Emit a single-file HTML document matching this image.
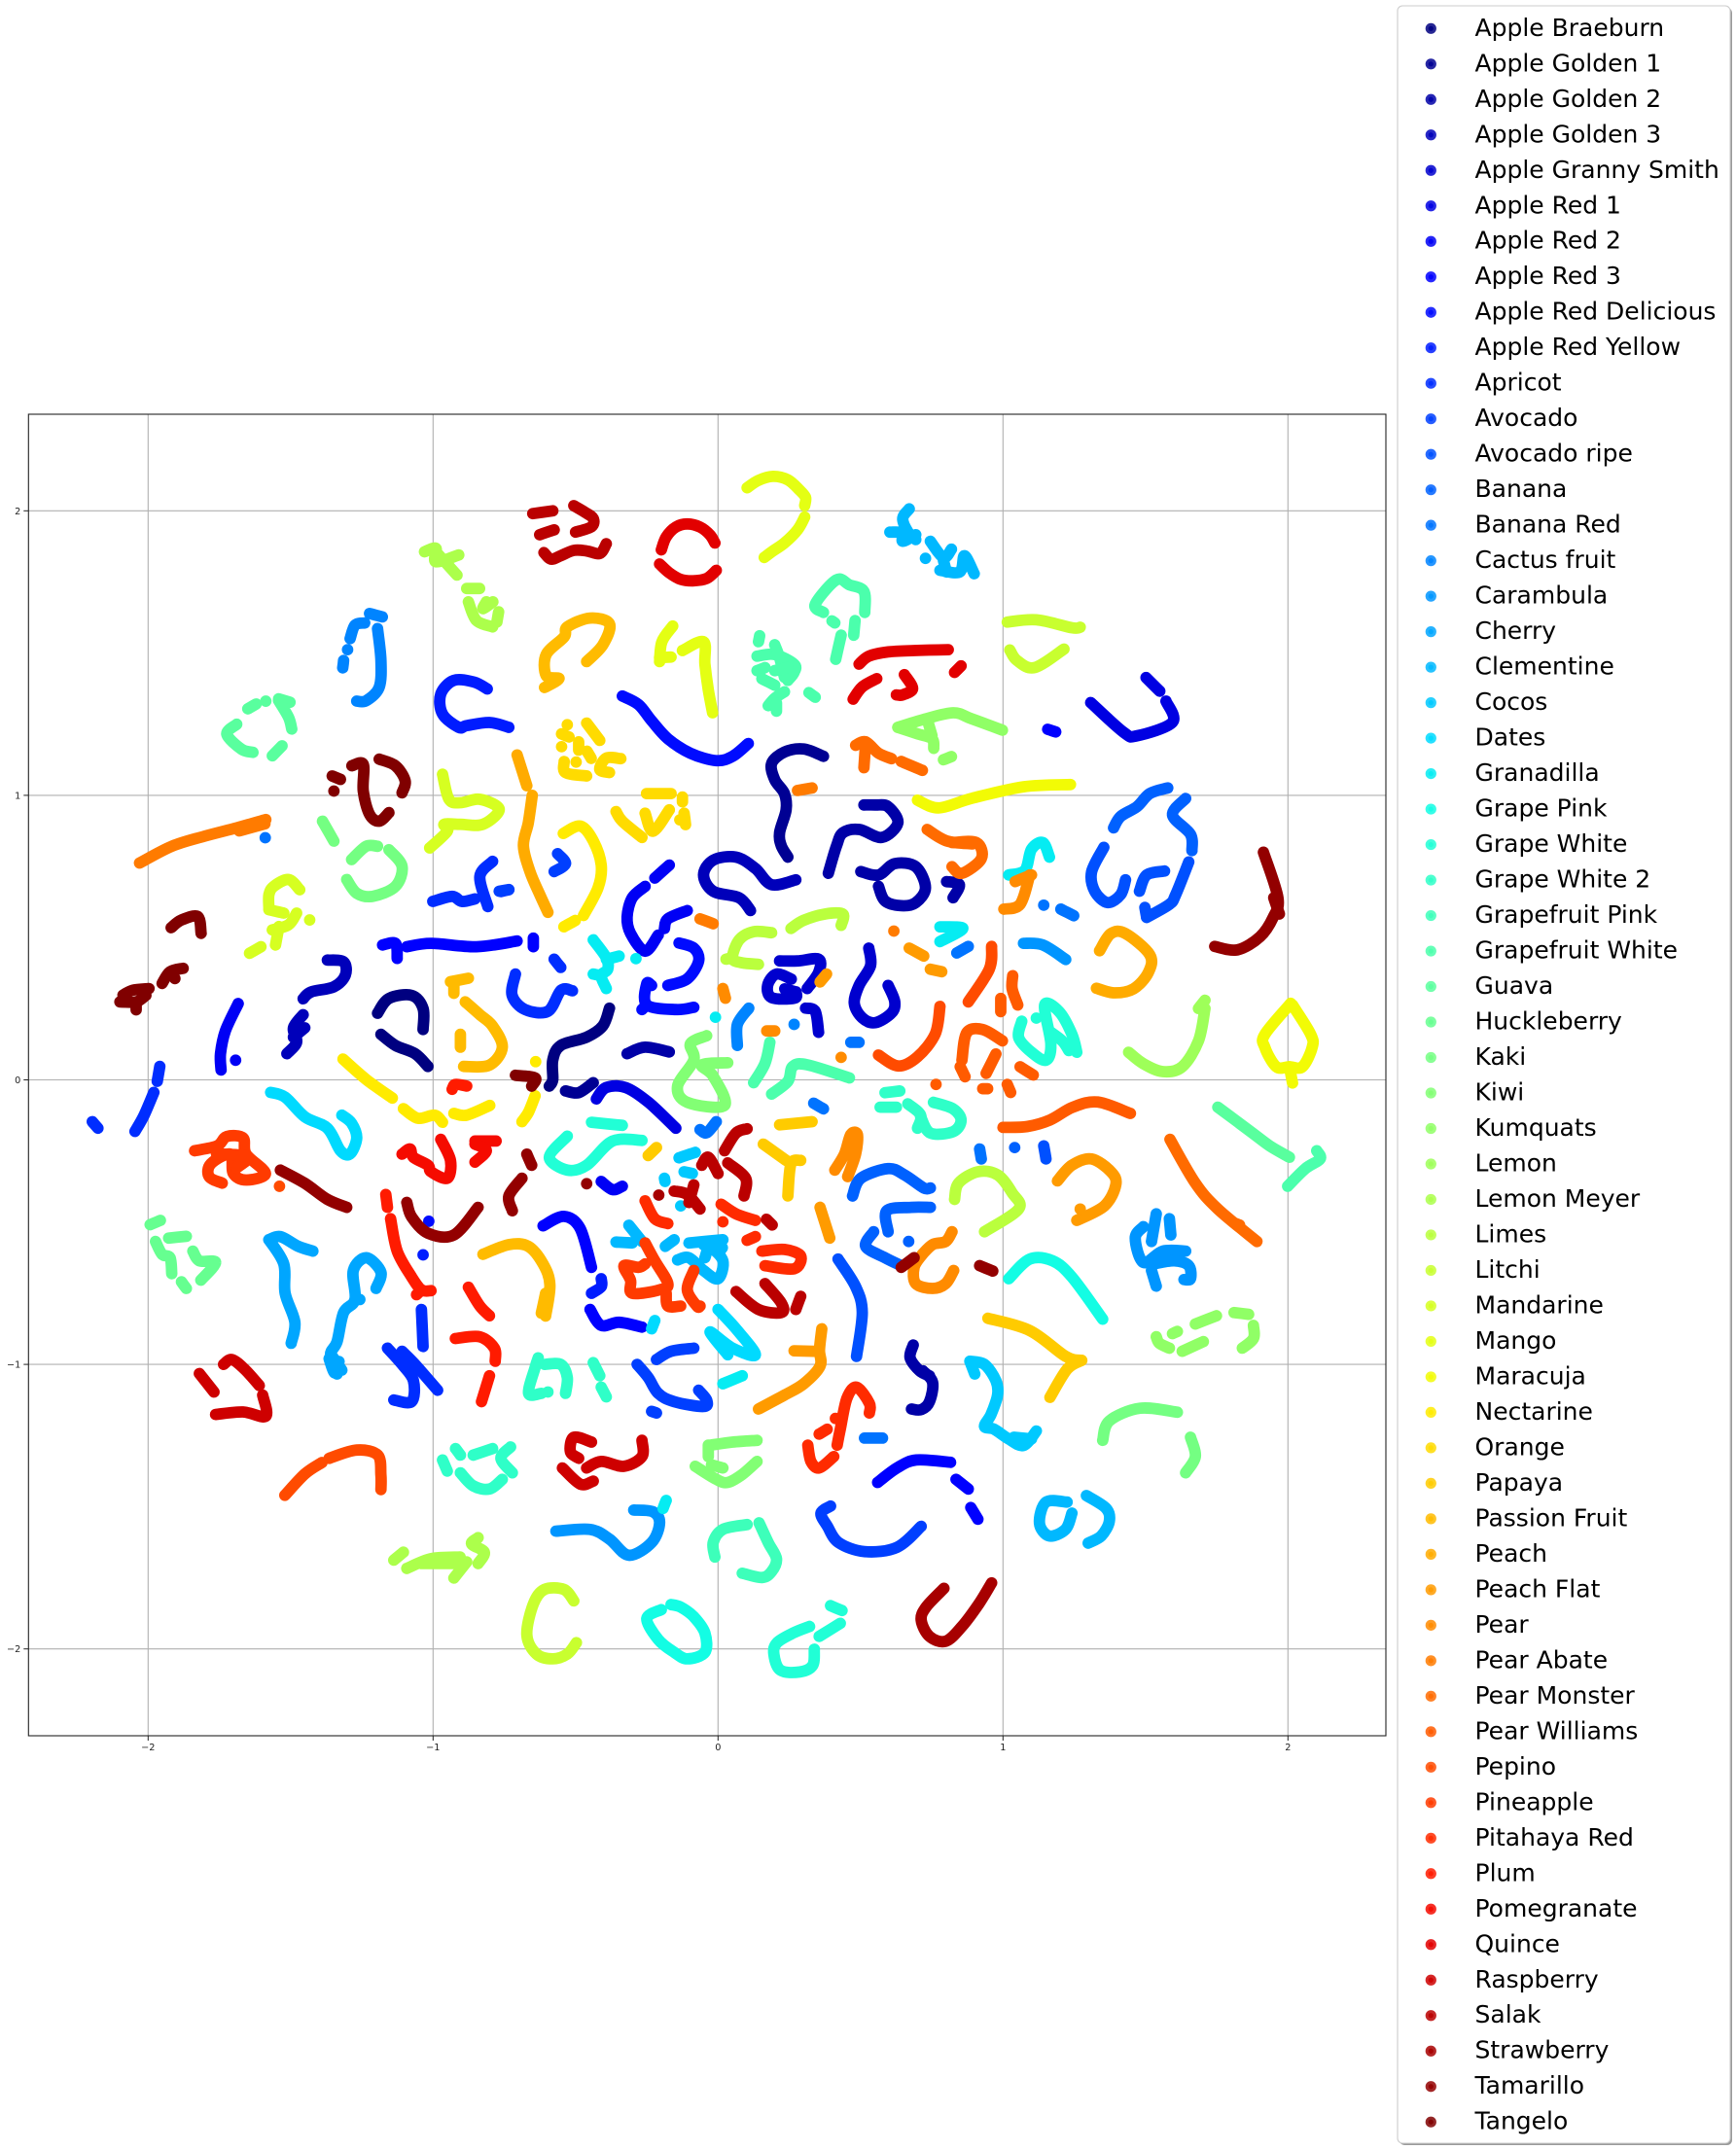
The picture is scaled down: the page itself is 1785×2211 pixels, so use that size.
<!DOCTYPE html>
<html>
<head>
<meta charset="utf-8">
<title>Fruit t-SNE scatter</title>
<style>
html,body{margin:0;padding:0;background:#fff;}
svg{display:block;font-family:"DejaVu Sans","Liberation Sans",sans-serif;}
</style>
</head>
<body>
<svg id="chart" xmlns="http://www.w3.org/2000/svg" width="1785" height="2211" viewBox="0 0 1785 2211"></svg>
<script>
const categories = ["Apple Braeburn","Apple Golden 1","Apple Golden 2","Apple Golden 3","Apple Granny Smith","Apple Red 1","Apple Red 2","Apple Red 3","Apple Red Delicious","Apple Red Yellow","Apricot","Avocado","Avocado ripe","Banana","Banana Red","Cactus fruit","Carambula","Cherry","Clementine","Cocos","Dates","Granadilla","Grape Pink","Grape White","Grape White 2","Grapefruit Pink","Grapefruit White","Guava","Huckleberry","Kaki","Kiwi","Kumquats","Lemon","Lemon Meyer","Limes","Litchi","Mandarine","Mango","Maracuja","Nectarine","Orange","Papaya","Passion Fruit","Peach","Peach Flat","Pear","Pear Abate","Pear Monster","Pear Williams","Pepino","Pineapple","Pitahaya Red","Plum","Pomegranate","Quince","Raspberry","Salak","Strawberry","Tamarillo","Tangelo"];
const xTickValues = [-2,-1,0,1,2];
const yTickValues = [-2,-1,0,1,2];
const xTickLabels = ["\u22122","\u22121","0","1","2"];
const yTickLabels = ["\u22122","\u22121","0","1","2"];

const appleBraeburn = [[-1.195,.234,-1.155,.286,-1.075,.297,-1.035,.251,-1.035,.177],[-1.183,.16,-1.132,.121,-1.063,.092,-1.018,.047],[-.381,.252,-.404,.19,-.461,.15,-.552,.121,-.58,.07,-.58,.001,-.592,-.022]];
const appleGolden1 = [[.37,1.137,.301,1.163,.233,1.152,.188,1.112,.199,1.055,.233,1.006,.239,.949,.216,.869,.222,.823,.245,.783],[-.535,-.039,-.489,-.045,-.438,-.01]];
const appleGolden2 = [[.387,.726,.416,.823,.439,.869,.496,.88,.575,.852,.631,.903,.597,.96,.552,.966,.512,.966],[.501,.732,.563,.72,.62,.76,.694,.749,.728,.675,.694,.623,.643,.612,.586,.629,.563,.68],[.802,.697,.847,.686,.825,.64],[.685,-.932,.674,-.977,.708,-1.023,.742,-1.04],[.719,-1.023,.753,-1.063,.742,-1.131,.713,-1.159,.679,-1.157],[-.319,.092,-.256,.115,-.171,.098]];
const appleGolden3 = [[.273,.703,.188,.686,.131,.743,.063,.783,-.017,.772,-.051,.72,-.017,.663,.074,.64,.114,.595],[-1.371,.421,-1.314,.415,-1.308,.368,-1.348,.327,-1.428,.309,-1.456,.285],[-1.456,.229,-1.49,.183,-1.479,.132,-1.513,.092],[-1.45,.183,-1.49,.15]];
const appleGrannySmith = [[.529,.463,.535,.401,.495,.332,.478,.269,.506,.218,.552,.201,.609,.235,.62,.275,.597,.332],[.216,.418,.279,.418,.353,.424,.353,.378,.313,.321],[.257,.354,.205,.372,.174,.332,.188,.289,.268,.287,.274,.309],[.274,.309,.234,.32],[.307,.252,.341,.241,.353,.167]];
const appleRed1 = [[1.308,1.326,1.424,1.221,1.47,1.209,1.595,1.257,1.572,1.331],[1.502,1.414,1.55,1.366],[-.427,-.067,-.393,-.027,-.324,-.027,-.244,-.079,-.148,-.17]];
const appleRed2 = [[-.171,.755,-.222,.709],[-.256,.68,-.301,.64,-.319,.572,-.307,.515,-.256,.452,-.21,.509],[-.188,.532,-.176,.566,-.108,.595],[-.41,-.357,-.37,-.386,-.336,-.374],[-1.684,.268,-1.729,.172,-1.746,.092,-1.744,.035],[-1.693,.069]];
const appleRed3 = [[-1.177,.474,-1.132,.48,-1.126,.427],[-1.092,.468,-1.007,.48,-.848,.468,-.705,.488],[-.648,.498,-.648,.468],[-.449,-.807,-.41,-.863,-.347,-.852,-.267,-.869],[-.614,-.513,-.541,-.48,-.484,-.522,-.444,-.659],[.56,-1.415,.628,-1.364,.696,-1.336,.816,-1.344],[.835,-1.404,.878,-1.438],[.887,-1.503,.912,-1.544],[1.157,1.232,1.185,1.223]];
const appleRedDelicious = [[-.336,1.349,-.279,1.319,-.233,1.262,-.176,1.199,-.097,1.148,-.006,1.122,.051,1.137,.106,1.182],[-.137,.481,-.085,.463,-.068,.418,-.108,.355,-.176,.332],[-.233,.332,-.25,.338,-.25,.264,-.148,.247,-.085,.255],[-.267,.247,-.25,.264],[-1.015,-.497]];
const appleRedYellow = [[-.81,1.374,-.856,1.398,-.927,1.404,-.973,1.356,-.967,1.286,-.91,1.239,-.882,1.245,-.802,1.256,-.734,1.239],[-.444,-.75,-.41,-.727,-.41,-.699],[-1.035,-.615]];
const apricot = [[-.791,.768,-.836,.715,-.808,.609],[-1.001,.627,-.933,.645,-.899,.627,-.853,.636],[-.762,.662,-.734,.668],[-.711,.372,-.723,.298,-.677,.247,-.597,.241,-.551,.315,-.511,.313],[-.575,.424,-.552,.395],[-1.959,.047,-1.968,-.005],[-1.98,-.044,-2.014,-.124,-2.046,-.181],[-2.196,-.147,-2.176,-.17],[-1.041,-.807,-1.035,-.937],[-1.16,-.943,-1.109,-1,-1.069,-1.057,-1.075,-1.131,-1.138,-1.125],[-1.109,-.954,-1.063,-1,-.984,-1.091]];
const avocado = [[-.563,.795,-.535,.76,-.575,.732],[-.768,.663,-.734,.669],[-.216,-.983,-.165,-.954,-.085,-.943],[-.284,-1,-.245,-1.046,-.21,-1.102,-.154,-1.131,-.051,-1.148,-.04,-1.125,-.068,-1.091],[-.233,-1.165,-.216,-1.171],[.395,-1.498,.361,-1.523,.384,-1.569,.423,-1.626,.514,-1.658,.628,-1.643,.713,-1.569]];
const avocadoRipe = [[.421,-.63,.483,-.727,.506,-.818,.486,-.972],[1.354,.817,1.311,.731,1.322,.663,1.367,.623,1.413,.651,1.43,.703],[1.567,.734,1.504,.72,1.479,.663],[1.652,.766,1.606,.651,1.584,.617,1.504,.571],[1.498,.606,1.504,.571],[1.143,-.232,1.151,-.278]];
const banana = [[.472,-.408,.501,-.346,.597,-.312,.654,-.334,.722,-.38,.745,-.38],[.597,-.534,.592,-.46,.677,-.448,.745,-.448],[.546,-.534,.518,-.585,.586,-.625,.643,-.653],[.669,-.568],[1.578,1.026,1.515,1.006,1.47,.96,1.413,.926,1.388,.886],[1.641,.989,1.595,.931,1.658,.863,1.663,.806],[1.041,-.238]];
const bananaRed = [[-1.589,.851],[-.063,-.175,-.04,-.186,-.006,-.147],[.336,-.082,.37,-.102],[.466,.132,.495,.132],[.514,-1.259,.577,-1.259],[1.143,.614],[1.203,.6,1.248,.577],[.878,.469,.838,.446],[.918,-.243,.924,-.278]];
const cactusFruit = [[-1.223,1.639,-1.178,1.627],[-1.24,1.606,-1.274,1.598,-1.291,1.551],[-1.3,1.512],[-1.314,1.474,-1.317,1.448],[-1.195,1.586,-1.183,1.474,-1.189,1.38,-1.234,1.333,-1.268,1.331],[.108,.252,.068,.195,.068,.121],[.267,.195]];
const carambula = [[-.569,-1.586,-.449,-1.58,-.381,-1.614,-.313,-1.671,-.233,-1.626,-.205,-1.557,-.228,-1.518,-.296,-1.512],[1.538,-.471,1.521,-.568],[1.584,-.488,1.589,-.545],[1.493,-.516,1.464,-.556,1.493,-.642,1.561,-.602,1.641,-.602],[1.527,-.647,1.601,-.636,1.652,-.653,1.658,-.699,1.635,-.702],[1.521,-.67,1.538,-.725],[1.072,.48,1.14,.474,1.22,.423]];
const cherry = [[-1.576,-.562,-1.536,-.551,-1.473,-.585,-1.422,-.602],[-1.576,-.562,-1.524,-.647,-1.519,-.75,-1.485,-.852,-1.498,-.926],[-1.2,-.733,-1.183,-.676,-1.234,-.625,-1.28,-.67,-1.274,-.772,-1.314,-.818,-1.337,-.92,-1.36,-.966,-1.337,-1.034],[-1.274,-.772,-1.257,-.772],[-1.365,-.98,-1.345,-1.03,-1.33,-.99],[-1.355,-.97,-1.32,-1.02]];
const clementine = [[.671,2.007,.648,1.973,.666,1.927,.694,1.899],[.603,1.925,.648,1.922,.648,1.893,.694,1.916],[.745,1.893,.791,1.836,.819,1.865],[.779,1.791,.848,1.785,.865,1.842,.899,1.779],[.791,1.825,.802,1.785],[.728,1.833],[1.225,-1.484,1.151,-1.484,1.128,-1.558,1.162,-1.603,1.219,-1.58,1.242,-1.523],[1.293,-1.461,1.362,-1.506,1.373,-1.552,1.345,-1.603,1.299,-1.628],[-.313,-.511,-.267,-.568],[-.358,-.57,-.301,-.573],[-.185,-.585,-.154,-.562],[-.102,-.573,.017,-.562],[-.142,-.633,-.102,-.625,-.051,-.67,0,-.699,.017,-.636,-.028,-.59,-.046,-.625],[-.05,-.58,.0,-.6,.015,-.59]];
const cocos = [[.884,-.989,.935,-1,.975,-1.057,.981,-1.108,.958,-1.176,.935,-1.218,.969,-1.228,1.02,-1.262,1.072,-1.285,1.117,-1.234],[1.038,-1.256,1.1,-1.262],[.901,-1.034,.884,-.989],[-.137,-.274,-.08,-.255],[-.119,-.323,-.09,-.329],[-.188,-.346,-.186,-.357],[-.131,-.443]];
const dates = [[-1.57,-.044,-1.519,-.061,-1.45,-.13,-1.371,-.17,-1.325,-.249,-1.291,-.26,-1.268,-.204,-1.286,-.152,-1.32,-.124],[0,-.807,.063,-.875,.131,-.966,.051,-.943,-.028,-.886,.034,-.966],[-.222,-.846,-.233,-.875]];
const granadilla = [[-.438,.492,-.392,.429,-.387,.389,-.41,.366,-.392,.321],[-.392,.424,-.347,.435],[-.288,.426],[-.438,.372,-.41,.366],[-.009,.22],[.085,-1.04,.017,-1.068],[-.182,-1.478,-.193,-1.506],[1.02,.72,1.077,.737,1.1,.811,1.14,.834,1.163,.783],[.779,.538,.859,.532,.779,.486]];
const grapePink = [[-.199,-1.862,-.25,-1.893,-.21,-1.967,-.154,-2.012,-.108,-2.035,-.046,-2.012,-.046,-1.944,-.085,-1.887,-.131,-1.853,-.165,-1.844],[1.02,-.699,1.094,-.63,1.174,-.636,1.242,-.693,1.35,-.841]];
const grapeWhite = [[-.444,-.149,-.336,-.16],[-.529,-.198,-.592,-.272,-.529,-.317,-.461,-.3,-.37,-.215,-.267,-.213],[.395,-1.848,.435,-1.865],[.355,-1.956,.429,-1.91],[.321,-1.921,.264,-1.944,.207,-1.978,.196,-2.018,.219,-2.075,.287,-2.081,.332,-2.058,.338,-2.001],[1.066,.206,1.055,.149,1.1,.097,1.151,.069,1.168,.126,1.146,.263,1.197,.24,1.242,.16,1.259,.097],[1.163,.171,1.208,.137,1.231,.103],[1.117,.217]];
const grapeWhite2 = [[.586,-.045,.638,-.039],[.569,-.096,.626,-.096],[.666,-.084,.711,-.124,.7,-.17],[.756,-.079,.825,-.102,.853,-.142,.825,-.182,.745,-.187,.711,-.13],[-.609,-1,-.552,-1,-.529,-1.046,-.535,-1.102],[-.597,-1.097],[-.438,-.994,-.415,-1.04],[-.41,-1.08,-.392,-1.114],[-.631,-.977,-.642,-1.011,-.665,-1.102,-.62,-1.102],[-.921,-1.296,-.904,-1.319],[-.967,-1.336,-.95,-1.375],[-.859,-1.319,-.791,-1.296],[-.728,-1.29,-.762,-1.33,-.722,-1.381],[-.904,-1.381,-.859,-1.427,-.802,-1.438,-.757,-1.404]];
const grapefruitPink = [[-.011,-1.677,-.017,-1.626,.017,-1.58,.102,-1.563],[.144,-1.557,.176,-1.626,.205,-1.683,.188,-1.728,.154,-1.749,.085,-1.734]];
const grapefruitWhite = [[.37,1.643,.341,1.671,.415,1.757,.461,1.74,.512,1.717,.515,1.643],[.41,1.606,.4,1.613],[.481,1.614,.476,1.563],[.432,1.563,.413,1.478],[.146,1.561,.142,1.54],[.137,1.489,.199,1.495,.267,1.461,.267,1.432,.245,1.404],[.199,1.529,.216,1.484,.233,1.415],[.137,1.438,.165,1.449],[.154,1.41,.199,1.387],[.199,1.438,.245,1.449],[.233,1.364,.199,1.341,.176,1.315],[.205,1.296,.205,1.324],[.319,1.361,.341,1.345],[.182,.132,.165,.058,.125,-.01],[.188,-.05,.245,-.005,.262,.047,.313,.053,.461,.007],[2.101,-.249,2.113,-.278,2.061,-.312,1.999,-.374]];
const guava = [[-1.65,1.304,-1.621,1.321],[-1.587,1.331],[-1.542,1.339,-1.502,1.327],[-1.542,1.333,-1.507,1.274,-1.496,1.233],[-1.53,1.174,-1.564,1.139],[-1.689,1.25,-1.724,1.215,-1.672,1.162,-1.632,1.151],[1.754,-.096,1.868,-.181,1.936,-.232,2.005,-.272]];
const huckleberry = [[-1.993,-.509,-1.957,-.494],[-1.928,-.556,-1.866,-.55],[-1.974,-.568,-1.951,-.613,-1.923,-.625,-1.917,-.681],[-1.883,-.71,-1.866,-.733],[-1.843,-.602,-1.82,-.636,-1.763,-.642,-1.815,-.704]];
const kaki = [[-1.388,.909,-1.348,.839],[-1.286,.774,-1.235,.821,-1.195,.821],[-1.155,.809,-1.109,.751,-1.132,.68,-1.212,.645,-1.268,.656,-1.303,.704],[1.35,-1.267,1.373,-1.199,1.481,-1.154,1.612,-1.168],[1.658,-1.256,1.675,-1.324,1.641,-1.381]];
const kiwi = [[-.04,.155,-.097,.127,-.085,.07,-.142,-.022,-.108,-.079,.023,-.09,-.017,.013,-.057,.053,.034,.06],[-.028,-1.284,.051,-1.273,.137,-1.267],[-.034,-1.284,-.034,-1.324],[-.08,-1.358,-.006,-1.404,.034,-1.415,.085,-1.387,.137,-1.341],[-.023,-1.353,.017,-1.364]];
const kumquats = [[.631,1.239,.722,1.267,.825,1.29,.89,1.269,.998,1.229],[.631,1.239,.7,1.216,.751,1.199,.757,1.165],[.734,1.267,.751,1.21],[.791,1.125,.819,1.136],[1.538,-.903,1.549,-.926,1.584,-.943],[1.612,-.884,1.595,-.892],[1.675,-.858,1.749,-.829],[1.629,-.954,1.703,-.92],[1.811,-.818,1.862,-.824],[1.879,-.863,1.879,-.909,1.84,-.943]];
const lemon = [[1.441,.097,1.492,.057,1.561,.029,1.629,.046,1.686,.137,1.709,.251],[1.686,.251,1.709,.28]];
const lemonMeyer = [[-1.03,1.856,-.99,1.868,-.99,1.821,-.91,1.845],[-.99,1.856,-.916,1.774],[-.882,1.727,-.837,1.727],[-.876,1.68,-.848,1.615,-.791,1.592],[-.813,1.68,-.825,1.656,-.79,1.68],[-.77,1.645,-.776,1.609],[-1.138,-1.688,-1.104,-1.66],[-1.092,-1.717,-1.007,-1.683,-.905,-1.677],[-1.041,-1.7,-.916,-1.7],[-.927,-1.751,-.882,-1.694],[-.842,-1.609,-.865,-1.631,-.82,-1.66,-.842,-1.7]];
const limes = [[.188,.517,.125,.521,.074,.492,.051,.429,.08,.412,.142,.406],[.028,.424,.051,.429],[.256,.532,.301,.561,.376,.583,.438,.583,.432,.543],[.83,-.42,.844,-.363,.912,-.323,.981,-.334,1.032,-.397,1.055,-.454,.935,-.534]];
const litchi = [[-.506,-1.831,-.541,-1.791,-.609,-1.791,-.648,-1.842,-.671,-1.95,-.637,-2.018,-.58,-2.035,-.529,-2.018,-.497,-1.978],[1.015,1.609,1.117,1.617,1.242,1.589,1.271,1.591],[1.024,1.511,1.049,1.474,1.111,1.449,1.214,1.514]];
const mandarine = [[-.967,1.074,-.944,.986,-.904,.974,-.836,.986,-.768,.951,-.825,.898,-.904,.898,-.961,.898,-.95,.874,-1.012,.815],[-1.576,.604,-1.576,.651,-1.559,.68,-1.507,.704,-1.468,.668],[-1.576,.598,-1.524,.586],[-1.479,.586,-1.507,.545,-1.564,.527],[-1.553,.474,-1.541,.539],[-1.433,.562],[-1.644,.445,-1.604,.468]];
const mango = [[.102,2.081,.142,2.107,.193,2.121,.245,2.109,.284,2.075,.307,2.047,.304,2.018],[.304,1.978,.279,1.933,.233,1.887,.193,1.859,.162,1.836],[-.205,1.47,-.197,1.54,-.159,1.595],[-.205,1.484,-.165,1.486],[-.125,1.509,-.051,1.54,-.046,1.461,-.034,1.37,-.019,1.29]];
const maracuja = [[.7,.983,.774,.956,.893,.99,1.072,1.03,1.237,1.038],[2.01,.269,1.919,.16,1.919,.114,1.959,.046,2.005,.046,2.051,.046,2.085,.114,2.08,.16,2.016,.263],[2.005,.046,2.016,-.011]];
const nectarine = [[-.543,.866,-.483,.892,-.438,.84,-.41,.755,-.421,.675,-.472,.578],[-.541,.538,-.501,.56],[-1.316,.073,-1.234,.001,-1.143,-.064],[-1.104,-.101,-1.053,-.135,-.995,-.124,-.967,-.149],[-.927,-.118,-.882,-.124,-.801,-.09],[-.64,.064],[-.642,-.056,-.665,-.113,-.688,-.147]];
const orange = [[-.461,1.254,-.415,1.193],[-.529,1.248],[-.549,1.216,-.523,1.205],[-.549,1.171],[-.489,1.188,-.489,1.159],[-.46,1.155,-.445,1.13],[-.498,1.117],[-.54,1.119,-.535,1.08,-.461,1.068],[-.341,1.129,-.392,1.131,-.415,1.091,-.381,1.08],[-.358,.943,-.336,.909,-.267,.852],[-.256,.937,-.228,.874,-.171,.949],[-.251,1.006,-.165,1.006],[-.125,.994,-.125,.977],[-.119,.937,-.114,.897],[-.134,.914,-.119,.92]];
const papaya = [[-.245,-.266,-.216,-.238],[.216,-.158,.33,-.147],[.159,-.226,.239,-.283],[.29,-.283,.256,-.295,.245,-.408],[.947,-.838,1.094,-.881,1.22,-.972,1.276,-.986],[1.276,-.986,1.225,-1.017,1.165,-1.116]];
const passionFruit = [[-.609,1.379,-.558,1.41,-.603,1.421,-.603,1.495,-.54,1.557,-.529,1.592,-.449,1.623,-.381,1.603,-.404,1.529,-.461,1.47],[-.904,.16,-.904,.115],[-.939,.345,-.876,.357],[-.927,.333,-.927,.304],[-.887,.274,-.836,.229,-.791,.189,-.757,.115,-.802,.052,-.893,.047],[-.825,-.613,-.734,-.579,-.666,-.585,-.614,-.647,-.59,-.72,-.605,-.83],[-.605,-.75,-.62,-.82]];
const peach = [[-.705,1.142,-.671,1.034],[-.652,1,-.666,.903,-.683,.823,-.66,.732,-.626,.652,-.597,.589],[1.339,.454,1.379,.514,1.43,.514,1.515,.44,1.51,.377,1.458,.32,1.39,.306,1.328,.322]];
const peachFlat = [[.358,-.448,.392,-.556],[.381,.372,.358,.344],[.671,.463,.722,.435],[.745,.389,.785,.38],[1.191,-.355,1.242,-.3,1.311,-.278,1.379,-.323,1.396,-.369,1.356,-.443,1.259,-.494],[1.271,-.454],[.142,-1.157,.233,-1.108,.301,-1.068,.358,-1.006,.356,-.949,.364,-.875],[.267,-.952,.336,-.954]];
const pear = [[.017,.321,.026,.287],[.171,.172,.199,.172],[.432,.079],[.41,-.317,.444,-.26,.466,-.192,.489,-.192,.483,-.26,.455,-.34],[.717,-.613,.753,-.579,.799,-.568,.821,-.534],[.717,-.613,.688,-.659,.694,-.716,.753,-.733,.799,-.716,.827,-.67],[1.003,.6,1.06,.617,1.094,.72],[1.043,.697,1.1,.72]];
const pearAbate = [[-2.03,.762,-1.917,.821,-1.803,.856,-1.689,.886,-1.587,.915],[-1.68,.875,-1.59,.9],[.279,1.017,.33,1.026],[-.063,.566,-.017,.549],[.617,.523]];
const pearMonster = [[.483,1.176,.518,1.188,.563,1.148,.609,1.129],[.518,1.188,.512,1.097],[.643,1.119,.717,1.088],[.821,.834,.907,.834,.924,.777,.856,.726,.821,.749],[.734,.88,.802,.84,.893,.829],[1.586,-.209,1.675,-.363,1.754,-.454,1.891,-.568],[1.817,-.505,1.83,-.51]];
const pearWilliams = [[1,-.167,1.085,-.164,1.165,-.141,1.245,-.096,1.333,-.078,1.447,-.118],[1.034,.366,1.032,.32,1.052,.263],[.992,.286,.992,.24],[.998,.137,.929,.177,.873,.166,.856,.069],[.85,.046,.867,.011],[.975,.091,.941,.023],[1.06,.046,1.106,.017],[.929,-.031,.946,-.031],[1.015,-.016,1.027,-.044],[.765,-.016]];
const pepino = [[.779,.258,.762,.161,.7,.081,.632,.049,.563,.087],[.96,.469,.952,.389,.878,.274],[-1.539,-.374],[-1.365,-1.33,-1.268,-1.301,-1.194,-1.319,-1.183,-1.39,-1.183,-1.44],[-1.52,-1.46,-1.45,-1.385,-1.39,-1.345]];
const pineapple = [[-1.837,-.249,-1.758,-.232,-1.724,-.199,-1.667,-.204,-1.656,-.261,-1.588,-.329,-1.656,-.352,-1.701,-.329,-1.712,-.261,-1.78,-.295,-1.786,-.34,-1.74,-.363],[-1.76,-.26,-1.65,-.27,-1.69,-.31],[-.256,-.573,-.222,-.636,-.176,-.716,-.205,-.738,-.301,-.75,-.307,-.704,-.33,-.653,-.279,-.659,-.256,-.647],[-.182,-.75,-.176,-.795,-.131,-.795],[-.085,-.67,-.108,-.738,-.074,-.795,-.063,-.795]];
const pitahayaRed = [[-.256,-.425,-.222,-.488,-.176,-.505],[.011,-.437,.063,-.471,.131,-.494],[.017,-.499],[.102,-.564,.131,-.551],[.154,-.602,.233,-.596,.29,-.619,.267,-.664,.165,-.653],[.531,-1.171,.531,-1.137,.486,-1.08,.452,-1.12,.429,-1.228,.418,-1.284],[.412,-1.19],[.383,-1.228,.355,-1.245],[.315,-1.284,.326,-1.341,.355,-1.364,.406,-1.324]];
const plum = [[-.933,-.033,-.922,-.016,-.882,-.022],[-1.166,-.403,-1.16,-.448],[-1.149,-.488,-1.126,-.602,-1.075,-.693,-1.041,-.738,-1.007,-.741],[-1.058,-.755,-1.041,-.738],[-.876,-.729,-.836,-.795,-.802,-.829],[-.922,-.909,-.836,-.903,-.785,-.943,-.782,-.989],[-.802,-1.04,-.83,-1.131]];
const pomegranate = [[-1.109,-.261,-1.081,-.243,-1.069,-.272,-1.018,-.3,-1.007,-.323,-.95,-.346,-.939,-.283,-.973,-.209],[-.853,-.215,-.779,-.215],[-.853,-.226,-.813,-.249,-.853,-.289]];
const quince = [[-.199,1.863,-.182,1.908,-.148,1.943,-.108,1.954,-.063,1.943,-.028,1.915,-.011,1.887],[-.205,1.813,-.171,1.782,-.131,1.759,-.088,1.754,-.04,1.762,-.006,1.791],[.495,1.461,.529,1.489,.597,1.504,.688,1.509,.808,1.512],[.474,1.338,.506,1.381,.557,1.41],[.654,1.424,.683,1.375,.648,1.353,.626,1.353],[.83,1.432,.853,1.455]];
const raspberry = [[-1.82,-1.032,-1.769,-1.097],[-1.735,-1,-1.706,-.983,-1.661,-1.017,-1.61,-1.074],[-1.598,-1.108,-1.587,-1.182,-1.667,-1.167,-1.763,-1.176],[-.444,-1.273,-.506,-1.256,-.518,-1.307,-.489,-1.33],[-.546,-1.364,-.483,-1.421,-.438,-1.41],[-.461,-1.364,-.41,-1.341,-.33,-1.358,-.267,-1.324,-.267,-1.267]];
const salak = [[-.65,1.99,-.58,2],[-.626,1.916,-.575,1.933],[-.506,2.018,-.467,1.995,-.438,1.973,-.444,1.944,-.5,1.925],[-.611,1.853,-.586,1.83,-.552,1.842,-.506,1.861,-.461,1.859,-.415,1.85,-.392,1.884],[.023,-.249,.063,-.187,.102,-.172],[.034,-.292,.097,-.346,.091,-.408],[-.057,-.3,-.034,-.272,0,-.329],[-.154,-.391,-.108,-.403,-.063,-.454],[-.085,-.369,-.102,-.431],[.17,-.49,.19,-.51],[.063,-.744,.142,-.807,.222,-.818,.222,-.784,.165,-.716],[.29,-.761,.273,-.807]];
const strawberry = [[.793,-1.787,.73,-1.853,.713,-1.899,.742,-1.956,.799,-1.973,.856,-1.921,.915,-1.842,.96,-1.768],[-.208,-.405]];
const tamarillo = [[-1.536,-.317,-1.451,-.363,-1.371,-.42,-1.303,-.448],[-.671,-.261,-.654,-.3],[-.688,-.346,-.734,-.408,-.722,-.46],[-1.092,-.431,-1.075,-.482,-1.018,-.539,-.927,-.545,-.842,-.448],[.643,-.659,.688,-.625],[.918,-.653,.964,-.672],[1.743,.469,1.823,.457,1.902,.503,1.948,.571,1.965,.64,1.914,.8],[1.97,.583,1.95,.64],[-.461,-.365]];
const tangelo = [[-1.354,1.068,-1.325,1.056],[-1.348,1.015],[-1.285,1.104,-1.245,1.109,-1.245,1.015,-1.223,.933,-1.189,.909,-1.155,.939],[-1.189,1.127,-1.132,1.104,-1.098,1.051,-1.109,1.009],[-1.919,.535,-1.883,.562,-1.826,.574,-1.814,.515],[-1.877,.392,-1.923,.38,-1.951,.339],[-1.906,.356],[-1.997,.321,-2.054,.315,-2.088,.298],[-2.099,.274,-2.042,.274,-2.008,.297],[-2.042,.246,-2.042,.274],[-.711,.016,-.642,.007,-.654,-.022]];

const seriesValues = [appleBraeburn,appleGolden1,appleGolden2,appleGolden3,appleGrannySmith,appleRed1,appleRed2,appleRed3,appleRedDelicious,appleRedYellow,apricot,avocado,avocadoRipe,banana,bananaRed,cactusFruit,carambula,cherry,clementine,cocos,dates,granadilla,grapePink,grapeWhite,grapeWhite2,grapefruitPink,grapefruitWhite,guava,huckleberry,kaki,kiwi,kumquats,lemon,lemonMeyer,limes,litchi,mandarine,mango,maracuja,nectarine,orange,papaya,passionFruit,peach,peachFlat,pear,pearAbate,pearMonster,pearWilliams,pepino,pineapple,pitahayaRed,plum,pomegranate,quince,raspberry,salak,strawberry,tamarillo,tangelo];

const NS = "http://www.w3.org/2000/svg";
const svg = document.getElementById("chart");
const plot = {left:29.3, right:1425, top:426, bottom:1785};
function xAxis(v){ return 738.3 + 293 * v; }
function yAxis(v){ return 1110.5 - 292.6 * v; }
function make(tag, attrs, parent){
  const el = document.createElementNS(NS, tag);
  for (const k in attrs) el.setAttribute(k, attrs[k]);
  (parent || svg).appendChild(el);
  return el;
}
function lerpStops(stops, t){
  for (let i = 1; i < stops.length; i++){
    if (t <= stops[i][0]){
      const a = stops[i-1], b = stops[i];
      return a[1] + (b[1]-a[1]) * (t-a[0]) / (b[0]-a[0]);
    }
  }
  return stops[stops.length-1][1];
}
function jet(t){
  const r = lerpStops([[0,0],[.35,0],[.66,1],[.89,1],[1,.5]], t);
  const g = lerpStops([[0,0],[.125,0],[.375,1],[.64,1],[.91,0],[1,0]], t);
  const b = lerpStops([[0,.5],[.11,1],[.34,1],[.65,0],[1,0]], t);
  return "rgb(" + Math.round(r*255) + "," + Math.round(g*255) + "," + Math.round(b*255) + ")";
}
function colorOf(i){ return jet(i / (categories.length - 1)); }
function splinePath(s){
  const p = [];
  for (let k = 0; k < s.length; k += 2) p.push([xAxis(s[k]), yAxis(s[k+1])]);
  let d = "M" + p[0][0].toFixed(1) + " " + p[0][1].toFixed(1);
  for (let i = 0; i < p.length - 1; i++){
    const a = p[Math.max(i-1,0)], b = p[i], c = p[i+1], e = p[Math.min(i+2,p.length-1)];
    const c1x = b[0] + (c[0]-a[0])/6, c1y = b[1] + (c[1]-a[1])/6;
    const c2x = c[0] - (e[0]-b[0])/6, c2y = c[1] - (e[1]-b[1])/6;
    d += "C" + c1x.toFixed(1) + " " + c1y.toFixed(1) + " " + c2x.toFixed(1) + " " + c2y.toFixed(1) + " " + c[0].toFixed(1) + " " + c[1].toFixed(1);
  }
  return d;
}

const gridGroup = make("g", {});


xTickValues.forEach(function(v){
  const l = make("line", {x1:xAxis(v), x2:xAxis(v), y1:plot.top, y2:plot.bottom, stroke:"#b0b0b0", "stroke-width":1.1}, gridGroup);
  
  
});
yTickValues.forEach(function(v){
  const l = make("line", {x1:plot.left, x2:plot.right, y1:yAxis(v), y2:yAxis(v), stroke:"#b0b0b0", "stroke-width":1.1}, gridGroup);
  
  
});

seriesValues.forEach(function(strokes, i){
  const g = make("g", {});
  
  
  strokes.forEach(function(s){
    if (s.length === 2){
      const c = make("circle", {cx:xAxis(s[0]), cy:yAxis(s[1]), r:5.9, fill:colorOf(i)}, g);
      
      
    } else {
      const p = make("path", {d:splinePath(s), fill:"none", stroke:colorOf(i), "stroke-width":11.8, "stroke-linecap":"round", "stroke-linejoin":"round"}, g);
      
      
    }
  });
});

const frame = make("rect", {x:plot.left, y:plot.top, width:plot.right-plot.left, height:plot.bottom-plot.top, fill:"none", stroke:"#222", "stroke-width":1.1});



xTickValues.forEach(function(v, i){
  const t = make("line", {x1:xAxis(v), x2:xAxis(v), y1:plot.bottom, y2:plot.bottom+5, stroke:"#222", "stroke-width":1});
  
  
  const lb = make("text", {x:xAxis(v), y:plot.bottom+15, "text-anchor":"middle", "font-size":9.7, fill:"#222"});
  lb.textContent = xTickLabels[i];
  
  
});
yTickValues.forEach(function(v, i){
  const t = make("line", {x1:plot.left-5, x2:plot.left, y1:yAxis(v), y2:yAxis(v), stroke:"#222", "stroke-width":1});
  
  
  const lb = make("text", {x:plot.left-8, y:yAxis(v)+3.5, "text-anchor":"end", "font-size":9.7, fill:"#222"});
  lb.textContent = yTickLabels[i];
  
  
});

const legend = make("g", {});


const legendShadow = make("rect", {x:1439, y:8, width:342, height:2198, rx:5, fill:"#9a9a9a"}, legend);


const legendBox = make("rect", {x:1437, y:6, width:342, height:2198, rx:5, fill:"#fff", stroke:"#ccc", "stroke-width":1.1}, legend);


categories.forEach(function(name, i){
  const y = 29.3 + 36.49 * i;
  const g = make("g", {}, legend);
  
  
  const m = make("circle", {cx:1471.3, cy:y, r:5.6, fill:colorOf(i), "fill-opacity":.85}, g);
  
  
  const core = make("circle", {cx:1471.3, cy:y, r:2.6, fill:colorOf(i), "fill-opacity":.85}, g);
  
  
  const t = make("text", {x:1516.5, y:y+7.5, "font-size":25, fill:"#000"}, g);
  t.textContent = name;
  
  
});
</script>
</body>
</html>
